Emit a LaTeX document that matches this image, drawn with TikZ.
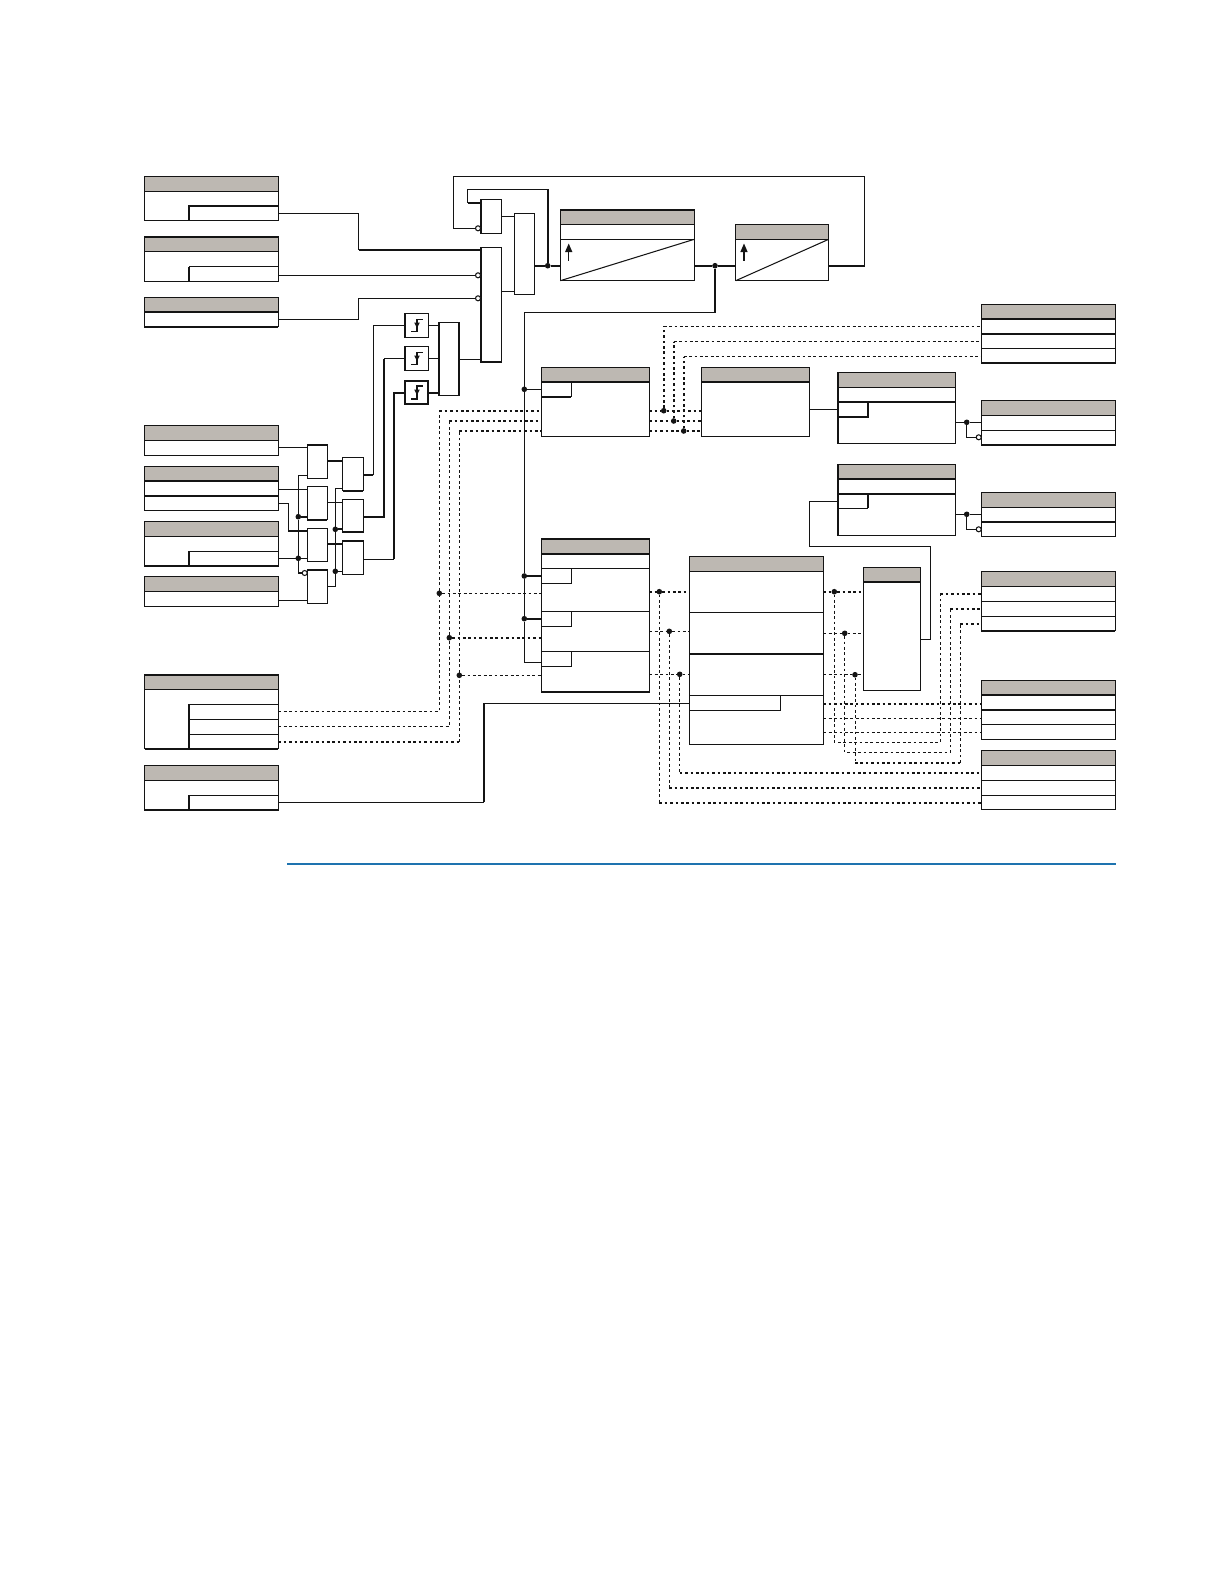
\documentclass[tikz,border=0pt]{standalone}
\usetikzlibrary{arrows.meta}
\definecolor{hdr}{RGB}{189,184,178}
\definecolor{rulec}{RGB}{20,20,20}
\definecolor{bluerule}{RGB}{30,115,175}
\tikzset{
  wire/.style={draw=rulec,line width=1.05pt},
  tw/.style={draw=rulec,line width=1.9pt},
  dsh/.style={draw=rulec,line width=1pt,dash pattern=on 2.8pt off 2.6pt},
  dth/.style={draw=rulec,line width=1.6pt,dash pattern=on 2.6pt off 2.8pt},
  blockbox/.style={draw=rulec,line width=1.05pt,inner sep=0pt,outer sep=0pt,anchor=north west,rectangle},
  jn/.style={circle,fill=rulec,draw=none,minimum size=5.6pt,inner sep=0pt,outer sep=0pt},
  inv/.style={circle,fill=white,draw=rulec,line width=1.05pt,minimum size=5pt,inner sep=0pt,outer sep=0pt},
  hfill/.style={fill=hdr,draw=none},
}
% \blk{name}{x1}{y1}{x2}{y2}: plain rectangular node
\newcommand{\blk}[5]{%
  \pgfmathsetmacro{\blkw}{#4-#2}\pgfmathsetmacro{\blkh}{#5-#3}%
  \node[blockbox,fill=white,minimum width=\blkw pt,minimum height=\blkh pt] (#1) at (#2,#3) {};}
% \hblk{name}{x1}{y1}{x2}{y2}{header bottom}: node with a grey header band
\newcommand{\hblk}[6]{%
  \blk{#1}{#2}{#3}{#4}{#5}%
  \fill[hfill] (#2,#3) rectangle (#4,#6);
  \draw[wire] (#2,#6) -- (#4,#6);
  \draw[wire] (#2,#3) rectangle (#4,#5);}
\newcommand{\rw}[4][wire]{\draw[#1] (#2,#4) -- (#3,#4);}
% \subb{x1}{x2}{ytop}{ybottom}
\newcommand{\subb}[5][wire]{\draw[#1] (#2,#5) -| (#3,#4);}
\begin{document}
\begin{tikzpicture}[x=1pt,y=-1pt]
\useasboundingbox (0,0) rectangle (1224,1584);
\fill[white] (0,0) rectangle (1224,1584);

% ---------- left input tables
\hblk{L1}{144.5}{176.3}{278.3}{220.3}{191.3}
\draw[tw] (278.3,205.7) -- (189,205.7) -- (189,220.3);
\hblk{L2}{144.5}{236.7}{278.3}{281.3}{251.7}
\draw[tw] (144.5,236.7) -- (278.3,236.7);
\draw[wire] (278.3,266.7) -- (189,266.7); \draw[tw] (189,266.7) -- (189,281.3);
\hblk{L3}{144.5}{297.3}{278.3}{326.7}{312}
\draw[tw] (144.5,297.3) -- (144.5,326.7) -- (278.3,326.7); \rw[tw]{144.5}{278.3}{312}
\hblk{L4}{144.5}{425.7}{278.3}{455.3}{440.3}
\draw[tw] (144.5,440.3) -- (144.5,455.3);
\hblk{L5}{144.5}{466.7}{278.3}{510.3}{481}
\rw[tw]{144.5}{278.3}{481}\rw[tw]{144.5}{278.3}{496}\draw[tw] (144.5,481) -- (144.5,510.3);
\hblk{L6}{144.5}{521.7}{278.3}{566}{536.3}
\draw[wire] (278.3,551.3) -- (189,551.3) -- (189,566);\draw[tw] (144.5,536.3) -- (144.5,566) -- (278.3,566);
\hblk{L7}{144.5}{576.7}{278.3}{606.3}{591.3}
\draw[tw] (144.5,591.3) -- (144.5,606.3);
\hblk{L8}{144.5}{674.7}{278.3}{748.7}{689.3}
\draw[tw] (144.5,674.7) -- (278.3,674.7);\draw[tw] (144.5,748.7) -- (278.3,748.7);
\rw{189}{278.3}{704.3}\rw{189}{278.3}{719.3}\rw{189}{278.3}{734.3}\draw[tw] (189,704.3) -- (189,748.7);
\hblk{L9}{144.5}{765.7}{278.3}{810}{780.3}
\draw[wire] (278.3,795.3) -- (189,795.3) -- (189,810);\draw[tw] (144.5,810) -- (278.3,810);

% ---------- gates
\blk{Ga}{307.3}{445}{327.3}{478.3}  \draw[tw] (307.3,445) -- (327.3,445);
\blk{Gb}{307.3}{486.5}{327.3}{519.7}\draw[tw] (307.3,519.7) -- (327.3,519.7);
\blk{Gc}{307.3}{528.3}{327.3}{561.3}
\blk{Gd}{307.3}{569.7}{327.3}{603.3}\draw[tw] (307.3,569.7) -- (327.3,569.7);
\blk{Ha}{342.7}{457.3}{363.3}{490.7}\draw[tw] (342.7,490.7) -- (363.3,490.7) ;
\blk{Hb}{342.7}{499.3}{363.3}{532.3}\draw[tw] (342.7,532.3) -- (363.3,532.3);
\blk{Hc}{342.7}{541}{363.3}{574.3}\draw[tw] (342.7,541) -- (363.3,541);
\blk{E1}{404.7}{313.7}{428.3}{337.3}\draw[tw] (404.7,313.7) -- (404.7,337.3);
\blk{E2}{404.7}{346.7}{428.3}{370.3}\draw[tw] (404.7,346.7) -- (404.7,370.3);
\blk{E3}{404.7}{380.7}{428.3}{404.3}\draw[tw] (404.7,380.7) rectangle (428.3,404.3);
\blk{Oa}{439}{322.7}{459.3}{395.3}\draw[tw] (459.3,322.7) -- (459.3,395.3);
\blk{Ab}{480.7}{247.7}{501.7}{362}\draw[tw] (480.7,247.7) -- (480.7,362) -- (501.7,362);
\blk{At}{480.7}{199.3}{501.7}{233.3}\draw[tw] (480.7,199.3) -- (480.7,233.3);
\blk{Ot}{514.7}{213.3}{534.3}{294.3}

% edge symbols
\foreach \ys/\lw in {0/1.05pt,33/1.05pt,67/1.9pt}{
  \begin{scope}[yshift=-\ys pt]
  \draw[rulec,line width=\lw] (411,331.6) -- (417,331.6) -- (417,319.4) -- (423.2,319.4);
  \fill[rulec] (414.2,322.6) -- (419.8,322.6) -- (417,328.2) -- cycle;
  \end{scope}}

% ---------- timers
\hblk{Ta}{560.3}{210}{694.3}{280.7}{224.7}
\rw{560.3}{694.3}{239.3}
\draw[wire] (560.3,280.7) -- (694.3,239.3);
\draw[rulec,line width=1.2pt,-{Triangle[width=7pt,length=8.5pt]}] (568.7,260.5) -- (568.7,243.5);
\hblk{Tb}{735.7}{224.7}{828.7}{280.7}{239.3}
\draw[wire] (735.7,280.7) -- (828.7,239.3);
\draw[rulec,line width=1.2pt,-{Triangle[width=7pt,length=8.5pt]}] (744,260.5) -- (744,243.5);

% ---------- central tables
\hblk{Ca}{541.3}{367.3}{649.3}{436.3}{381.7}
\rw[tw]{541.3}{649.3}{381.7}
\draw[tw] (541.3,396.7) -- (571.3,396.7);\draw[wire] (571.3,396.7) -- (571.3,381.7);
\hblk{Da}{701.3}{367.3}{809.3}{436.3}{381.7}
\rw[tw]{701.3}{809.3}{381.7}
\hblk{Ea}{837.7}{372.3}{955.3}{443.3}{387.3}
\rw[tw]{837.7}{955.3}{402}\draw[tw] (837.7,416.7) -- (868,416.7) -- (868,402);\draw[tw] (837.7,372.3) -- (837.7,443.3);
\hblk{Eb}{837.7}{464.3}{955.3}{535.3}{479}
\rw[tw]{837.7}{955.3}{479}\rw[tw]{837.7}{955.3}{493.7}\draw[wire] (837.7,508.3) -- (868,508.3);\draw[tw] (868,508.3) -- (868,493.7);\draw[tw] (837.7,464.3) -- (837.7,535.3);
\hblk{Ha2}{541.3}{538.7}{649.3}{692}{553.7}
\rw[tw]{541.3}{649.3}{553.7}\rw[tw]{541.3}{649.3}{692}\rw[tw]{541.3}{649.3}{538.7}
\rw{541.3}{649.3}{568.3}\subb{541.3}{571.3}{568.3}{583.3}
\rw{541.3}{649.3}{611.3}\subb{541.3}{571.3}{611.3}{626.3}
\rw{541.3}{649.3}{651.3}\subb{541.3}{571.3}{651.3}{666.3}
\hblk{Ga2}{689.3}{556.3}{823.3}{744.3}{571.3}
\rw{689.3}{823.3}{612.3}\rw[tw]{689.3}{823.3}{654}\rw{689.3}{823.3}{695.3}
\subb{689.3}{780.7}{695.3}{710.3}
\hblk{Fa}{863.3}{567.3}{920.3}{690.3}{581.7}
\rw[tw]{863.3}{920.3}{581.7}

% ---------- right output tables
\hblk{R1}{981.3}{304.3}{1115.3}{363}{319}
\rw[tw]{981.3}{1115.3}{319}\rw[tw]{981.3}{1115.3}{333.7}\rw{981.3}{1115.3}{348.3}
\hblk{R2}{981.3}{400.3}{1115.3}{445}{415.3}
\rw{981.3}{1115.3}{430.3}\rw[tw]{981.3}{1115.3}{445}
\hblk{R3}{981.3}{492.3}{1115.3}{536.3}{507.3}
\rw[tw]{981.3}{1115.3}{521.7}
\hblk{R4}{981.3}{571.3}{1115.3}{630.7}{586.3}
\rw{981.3}{1115.3}{601.3}\rw{981.3}{1115.3}{616.3}\rw[tw]{981.3}{1115.3}{630.7}
\hblk{R5}{981.3}{680.7}{1115.3}{739.3}{695}
\rw[tw]{981.3}{1115.3}{695}\rw[tw]{981.3}{1115.3}{709.7}\rw{981.3}{1115.3}{724.3}
\hblk{R6}{981.3}{750.3}{1115.3}{809.3}{765.3}
\rw{981.3}{1115.3}{780.3}\rw{981.3}{1115.3}{795.3}

% ---------- junctions and inverters
\node[jn] (j1) at (298.3,558.3) {};
\node[jn] (j2) at (298.3,516.7) {};
\node[jn] (j3) at (335.3,529.3) {};
\node[jn] (j4) at (335.3,571.3) {};
\node[jn] (j5) at (547.7,265.7) {};
\node[jn] (j6) at (715,265.7) {};
\node[jn] (j7) at (524.3,389.3) {};
\node[jn] (j8) at (524.3,576) {};
\node[jn] (j9) at (524.3,618.7) {};
\node[jn] (k1) at (439.3,593.3) {};
\node[jn] (k2) at (449.3,637.7) {};
\node[jn] (k3) at (459.3,675.3) {};
\node[jn] (m1) at (663.7,410.7) {};
\node[jn] (m2) at (673.7,421) {};
\node[jn] (m3) at (683.7,431) {};
\node[jn] (n1) at (659.3,591.7) {};
\node[jn] (n2) at (669.3,631.3) {};
\node[jn] (n3) at (679.7,674.3) {};
\node[jn] (p1) at (834.3,591.7) {};
\node[jn] (p2) at (844.7,633.3) {};
\node[jn] (p3) at (855,674.7) {};
\node[jn] (q1) at (966.7,422.3) {};
\node[jn] (q2) at (966.7,514.3) {};
\node[inv] (i1) at (478,228.3) {};
\node[inv] (i2) at (478,275.3) {};
\node[inv] (i3) at (478,298.3) {};
\node[inv] (i4) at (304.7,573) {};
\node[inv] (i5) at (978.7,437.3) {};
\node[inv] (i6) at (978.7,529.3) {};

% ---------- solid connectors, left
\draw[wire] (L1.east |- 0,213.3) -- (358.7,213.3) -- (358.7,249.7);
\draw[tw] (358.7,249.7) -- (Ab.west |- 0,249.7);
\draw[wire] (L2.east |- 0,275.3) -- (i2);
\draw[wire] (L3.east |- 0,319.3) -- (358.7,319.3) -- (358.7,298.3) -- (i3);
\draw[wire] (L4.east |- 0,447.3) -- (Ga.west |- 0,447.3);
\draw[wire] (L5.east |- 0,489.3) -- (Gb.west |- 0,489.3);
\draw[wire] (L5.east |- 0,503.3) -- (288.3,503.3) -- (288.3,531);
\draw[tw] (288.3,531) -- (Gc.west |- 0,531);
\draw[wire] (L6.east |- 0,558.3) -- (j1);
\draw[wire] (j1) -- (Gc.west |- j1);
\draw[wire] (Ga.west |- 0,475.3) -- (298.3,475.3) -- (j2);
\draw[wire] (j2) -- (j1);
\draw[wire] (j1) -- (298.3,573) -- (i4);
\draw[tw] (j2) -- (Gb.west |- j2);
\draw[wire] (L7.east |- 0,600.3) -- (Gd.west |- 0,600.3);
\draw[tw] (Ga.east |- 0,460.7) -- (Ha.west |- 0,460.7);
\draw[wire] (Gb.east |- 0,502.3) -- (Hb.west |- 0,502.3);
\draw[tw] (Gc.east |- 0,543.7) -- (Hc.west |- 0,543.7);
\draw[wire] (Gd.east |- 0,586.3) -- (335.3,586.3) -- (j4);
\draw[wire] (j4) -- (j3);
\draw[wire] (j3) -- (335.3,488.3) -- (Ha.west |- 0,488.3);
\draw[tw] (j3) -- (Hb.west |- j3);
\draw[wire] (j4) -- (Hc.west |- j4);
\draw[tw] (Ha.east |- 0,475.3) -- (373.3,475.3);
\draw[wire] (373.3,475.3) -- (373.3,325.3) -- (E1.west |- 0,325.3);
\draw[tw] (Hb.east |- 0,516.7) -- (384,516.7) -- (384,358.7);
\draw[wire] (384,358.7) -- (E2.west |- 0,358.7);
\draw[wire] (Hc.east |- 0,559.3) -- (394,559.3);
\draw[tw] (394,559.3) -- (394,392.7) -- (E3.west |- 0,392.7);
\draw[wire] (E1.east |- 0,325.3) -- (Oa.west |- 0,325.3);
\draw[wire] (E2.east |- 0,358.7) -- (Oa.west |- 0,358.7);
\draw[tw] (E3.east |- 0,392.7) -- (Oa.west |- 0,392.7);
\draw[wire] (Oa.east |- 0,359.3) -- (Ab.west |- 0,359.3);
\draw[wire] (At.east |- 0,216.3) -- (Ot.west |- 0,216.3);
\draw[wire] (Ab.east |- 0,291.3) -- (Ot.west |- 0,291.3);
\draw[tw] (Ot.east |- j5) -- (j5);
\draw[tw] (j5) -- (Ta.west |- j5);
\draw[tw] (j5) -- (547.7,189.3);
\draw[wire] (547.7,189.3) -- (467.7,189.3) -- (467.7,202.7);
\draw[tw] (467.7,202.7) -- (At.west |- 0,202.7);
\draw[tw] (Ta.east |- j6) -- (j6);
\draw[tw] (j6) -- (Tb.west |- j6);
\draw[tw,line join=miter] (Tb.east |- 0,265.7) -- (864.5,265.7) -- (864.5,176.3);
\draw[wire] (864.5,176.3) -- (453.3,176.3) -- (453.3,228.3) -- (i1);
\draw[tw] (j6) -- (715,312.7);
\draw[wire] (715,312.7) -- (524.3,312.7) -- (j7);
\draw[wire] (j7) -- (Ca.west |- j7);
\draw[wire] (j7) -- (j8);
\draw[wire] (j8) -- (Ha2.west |- j8);
\draw[wire] (j8) -- (j9);
\draw[tw] (j9) -- (Ha2.west |- j9);
\draw[wire] (j9) -- (524.3,662.3) -- (Ha2.west |- 0,662.3);
\draw[wire] (L9.east |- 0,802.3) -- (483.7,802.3);
\draw[tw] (483.7,802.3) -- (483.7,703.3);
\draw[wire] (483.7,703.3) -- (Ga2.west |- 0,703.3);

% ---------- solid connectors, right
\draw[wire] (Da.east |- 0,409.3) -- (Ea.west |- 0,409.3);
\draw[wire] (Ea.east |- q1) -- (q1);
\draw[wire] (q1) -- (R2.west |- q1);
\draw[wire] (q1) -- (966.7,437.3) -- (i5);
\draw[wire] (Eb.east |- q2) -- (q2);
\draw[wire] (q2) -- (R3.west |- q2);
\draw[wire] (q2) -- (966.7,529.3) -- (i6);
\draw[wire] (Eb.west |- 0,501.3) -- (809.3,501.3) -- (809.3,546.3) -- (930.3,546.3) -- (930.3,639.3) -- (Fa.east |- 0,639.3);

% ---------- dashed connectors, input buses
\draw[dsh] (L8.east |- 0,711.3) -- (439.3,711.3) -- (k1);
\draw[dsh] (k1) -- (439.3,410.7);
\draw[dth] (439.3,410.7) -- (Ca.west |- 0,410.7);
\draw[dsh] (k1) -- (Ha2.west |- k1);
\draw[dsh] (L8.east |- 0,726.3) -- (449.3,726.3) -- (k2);
\draw[dsh] (k2) -- (449.3,421);
\draw[dth] (449.3,421) -- (Ca.west |- 0,421);
\draw[dth] (k2) -- (Ha2.west |- k2);
\draw[dth] (L8.east |- 0,742) -- (459.3,742);
\draw[dsh] (459.3,742) -- (k3);
\draw[dsh] (k3) -- (459.3,431);
\draw[dth] (459.3,431) -- (Ca.west |- 0,431);
\draw[dsh] (k3) -- (Ha2.west |- k3);

% ---------- dashed connectors, first table
\draw[dth] (Ca.east |- m1) -- (m1);\draw[dth] (m1) -- (Da.west |- m1);
\draw[dth] (Ca.east |- m2) -- (m2);\draw[dth] (m2) -- (Da.west |- m2);
\draw[dth] (Ca.east |- m3) -- (m3);\draw[dth] (m3) -- (Da.west |- m3);
\draw[dth] (m1) -- (663.7,326.3);\draw[dsh] (663.7,326.3) -- (R1.west |- 0,326.3);
\draw[dth] (m2) -- (673.7,341.7);\draw[dsh] (673.7,341.7) -- (R1.west |- 0,341.7);
\draw[dth] (m3) -- (683.7,356.7);\draw[dsh] (683.7,356.7) -- (R1.west |- 0,356.7);

% ---------- dashed connectors, lower tables
\draw[dth] (Ha2.east |- n1) -- (n1);\draw[dth] (n1) -- (Ga2.west |- n1);
\draw[dsh] (Ha2.east |- n2) -- (n2);\draw[dsh] (n2) -- (Ga2.west |- n2);
\draw[dsh] (Ha2.east |- n3) -- (n3);\draw[dsh] (n3) -- (Ga2.west |- n3);
\draw[dsh] (n1) -- (659.3,803);\draw[dth] (659.3,803) -- (R6.west |- 0,803);
\draw[dsh] (n2) -- (669.3,787.7);\draw[dth] (669.3,787.7) -- (R6.west |- 0,787.7);
\draw[dsh] (n3) -- (679.7,773);\draw[dth] (679.7,773) -- (R6.west |- 0,773);
\draw[dth] (Ga2.east |- p1) -- (p1);\draw[dth] (p1) -- (Fa.west |- p1);
\draw[dsh] (Ga2.east |- p2) -- (p2);\draw[dsh] (p2) -- (Fa.west |- p2);
\draw[dsh] (Ga2.east |- p3) -- (p3);\draw[dsh] (p3) -- (Fa.west |- p3);
\draw[dsh] (p1) -- (834.3,742) -- (940.3,742) -- (940.3,593.7);
\draw[dth] (940.3,593.7) -- (R4.west |- 0,593.7);
\draw[dsh] (p2) -- (844.7,752.3) -- (950.3,752.3) -- (950.3,609);
\draw[dth] (950.3,609) -- (R4.west |- 0,609);
\draw[dsh] (p3) -- (855,762.7);
\draw[dth] (855,762.7) -- (960.3,762.7);
\draw[dsh] (960.3,762.7) -- (960.3,624);
\draw[dth] (960.3,624) -- (R4.west |- 0,624);
\draw[dth] (Ga2.east |- 0,703.7) -- (R5.west |- 0,703.7);
\draw[dsh] (Ga2.east |- 0,718.3) -- (R5.west |- 0,718.3);
\draw[dsh] (Ga2.east |- 0,732.3) -- (R5.west |- 0,732.3);

% ---------- blue rule
\draw[bluerule,line width=1.8pt] (287,864) -- (1116,864);
\end{tikzpicture}
\end{document}
